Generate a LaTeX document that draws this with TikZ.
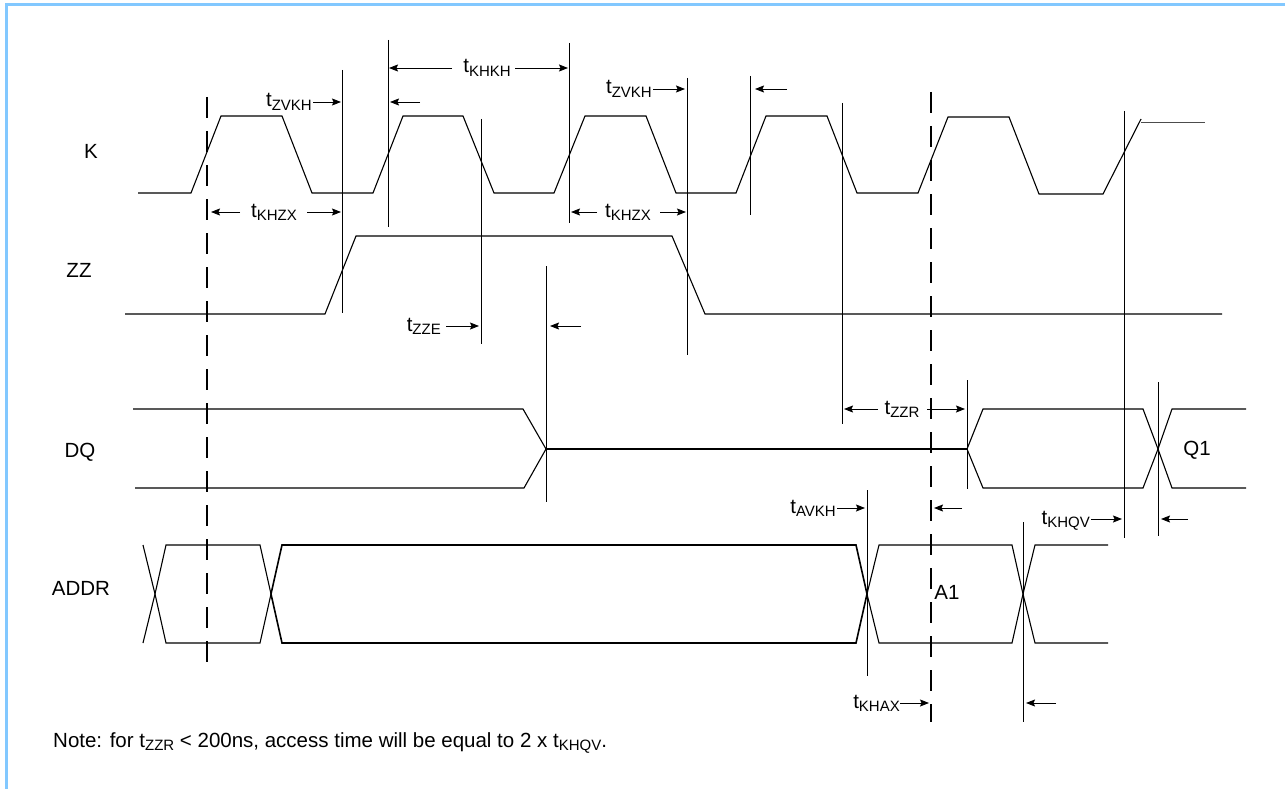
\documentclass[tikz,border=0pt]{standalone}
\usepackage{fontspec}
\setmainfont{Liberation Sans}
\usetikzlibrary{arrows.meta}
\newcommand\tlab[1]{t\raisebox{-3.5pt}{\fontsize{15}{15}\selectfont #1}}
\definecolor{frameblue}{RGB}{130,200,255}
\tikzset{
  wave/.style={line width=1.1pt, line join=miter},
  thickwave/.style={line width=1.6pt, line join=miter},
  vline/.style={line width=0.9pt},
  dline/.style={line width=1.2pt, dash pattern=on 21pt off 13pt},
  arr/.style={line width=0.9pt, -{Stealth[length=9pt,width=7pt,inset=1.5pt]}},
  lbl/.style={inner sep=0pt, font=\fontsize{20.5}{24}\selectfont},
}
\begin{document}
\begin{tikzpicture}[x=1pt,y=-1pt]
\useasboundingbox (0,0) rectangle (1285,789);
% frame
\draw[frameblue, line width=2.2pt] (6.5,789) -- (6.5,4.5) -- (1285,4.5);

% signal labels
\node[lbl, anchor=base] (lK) at (91,159) {K};
\node[lbl, anchor=base] (lZZ) at (79,277) {ZZ};
\node[lbl, anchor=base] (lDQ) at (80,457) {DQ};
\node[lbl, anchor=base] (lADDR) at (81,595) {ADDR};

% K clock
\draw[wave] (138,193) -- (191,193) -- (221,116) -- (282,116) -- (312,193) -- (373,193)
  -- (403,116) -- (463,116) -- (494,193) -- (554,193) -- (585,116) -- (646,116)
  -- (676,193) -- (736,193) -- (766,116) -- (827,116) -- (857,193) -- (918,193)
  -- (948,117) -- (1009,117) -- (1039,194) -- (1103,194) -- (1141,119);
\draw[line width=0.9pt, black!70] (1141,122) -- (1205,122);

% ZZ
\draw[wave] (125,314) -- (325,314) -- (356,236) -- (672,236) -- (705,314) -- (1222,314);

% DQ
\draw[wave] (133,409) -- (523,409) -- (546,449) -- (524,488) -- (135,488);
\draw[wave] (546,449) -- (967,449);
\draw[wave] (967,449) -- (983,409) -- (1143,409) -- (1158,449) -- (1143,488) -- (983,488) -- cycle;
\draw[wave] (1246,409) -- (1172,409) -- (1158,449) -- (1172,488) -- (1246,488);
\node[lbl, anchor=base] (lQ1) at (1197,455) {Q1};

% ADDR
\draw[wave] (143,545) -- (155,594) -- (143,643);
\draw[wave] (166,545) -- (260,545) -- (271,594) -- (260,643) -- (166,643) -- (155,594) -- cycle;
\draw[thickwave] (282,545) -- (856,545) -- (867,594) -- (856,643) -- (282,643) -- (271,594) -- cycle;
\draw[wave] (879,545) -- (1012,545) -- (1023,594) -- (1012,643) -- (879,643) -- (867,594) -- cycle;
\draw[wave] (1108,545) -- (1035,545) -- (1023,594) -- (1035,643) -- (1108,643);
\node[lbl, anchor=base] (lA1) at (947,599) {A1};

% reference lines
\draw[dline] (207,97) -- (207,662);
\draw[dline] (931,92) -- (931,722);
\draw[vline] (342,70) -- (342,313);
\draw[vline] (388,40) -- (388,227);
\draw[vline] (481,119) -- (481,344);
\draw[vline] (569,43) -- (569,223);
\draw[vline] (687,78) -- (687,355);
\draw[vline] (750,76) -- (750,215);
\draw[vline] (842,103) -- (842,424);
\draw[vline] (1124,111) -- (1124,538);
\draw[vline] (546,266) -- (546,502);
\draw[vline] (967,380) -- (967,489);
\draw[vline] (1158,382) -- (1158,536);
\draw[vline] (867,490) -- (867,676);
\draw[vline] (1023,522) -- (1023,722);

% timing labels and arrows
\node[lbl, anchor=base east] (zvkh1) at (312,107) {\tlab{ZVKH}};
\draw[arr] (313,102) -- (341,102);
\draw[arr] (420,102) -- (390,102);

\node[lbl, anchor=base] (khkh) at (487,73) {\tlab{KHKH}};
\draw[arr] (452,68) -- (389,68);
\draw[arr] (515,68) -- (568,68);

\node[lbl, anchor=base] (khzx1) at (274,217) {\tlab{KHZX}};
\draw[arr] (240,212) -- (211,212);
\draw[arr] (307,212) -- (341,212);

\node[lbl, anchor=base] (khzx2) at (628,217) {\tlab{KHZX}};
\draw[arr] (597,212) -- (571,212);
\draw[arr] (660,212) -- (686,212);

\node[lbl, anchor=base east] (zvkh2) at (652,94) {\tlab{ZVKH}};
\draw[arr] (653,89) -- (685,89);
\draw[arr] (787,89) -- (755,89);

\node[lbl, anchor=base east] (zze) at (441,331) {\tlab{ZZE}};
\draw[arr] (446,326) -- (479,326);
\draw[arr] (581,326) -- (550,326);

\node[lbl, anchor=base] (zzr) at (902,414) {\tlab{ZZR}};
\draw[arr] (878,409) -- (844,409);
\draw[arr] (927,409) -- (965,409);

\node[lbl, anchor=base east] (avkh) at (836,513) {\tlab{AVKH}};
\draw[arr] (837,508) -- (865,508);
\draw[arr] (962,508) -- (934,508);

\node[lbl, anchor=base east] (khqv) at (1090,524) {\tlab{KHQV}};
\draw[arr] (1091,519) -- (1122,519);
\draw[arr] (1188,519) -- (1161,519);

\node[lbl, anchor=base east] (khax) at (900,708) {\tlab{KHAX}};
\draw[arr] (900,703) -- (929,703);
\draw[arr] (1056,703) -- (1026,703);

% note
\node[lbl, anchor=base west] (note) at (53,747)
  {Note: for \tlab{ZZR} < 200ns, access time will be equal to 2 x \tlab{KHQV}.};
\end{tikzpicture}
\end{document}
